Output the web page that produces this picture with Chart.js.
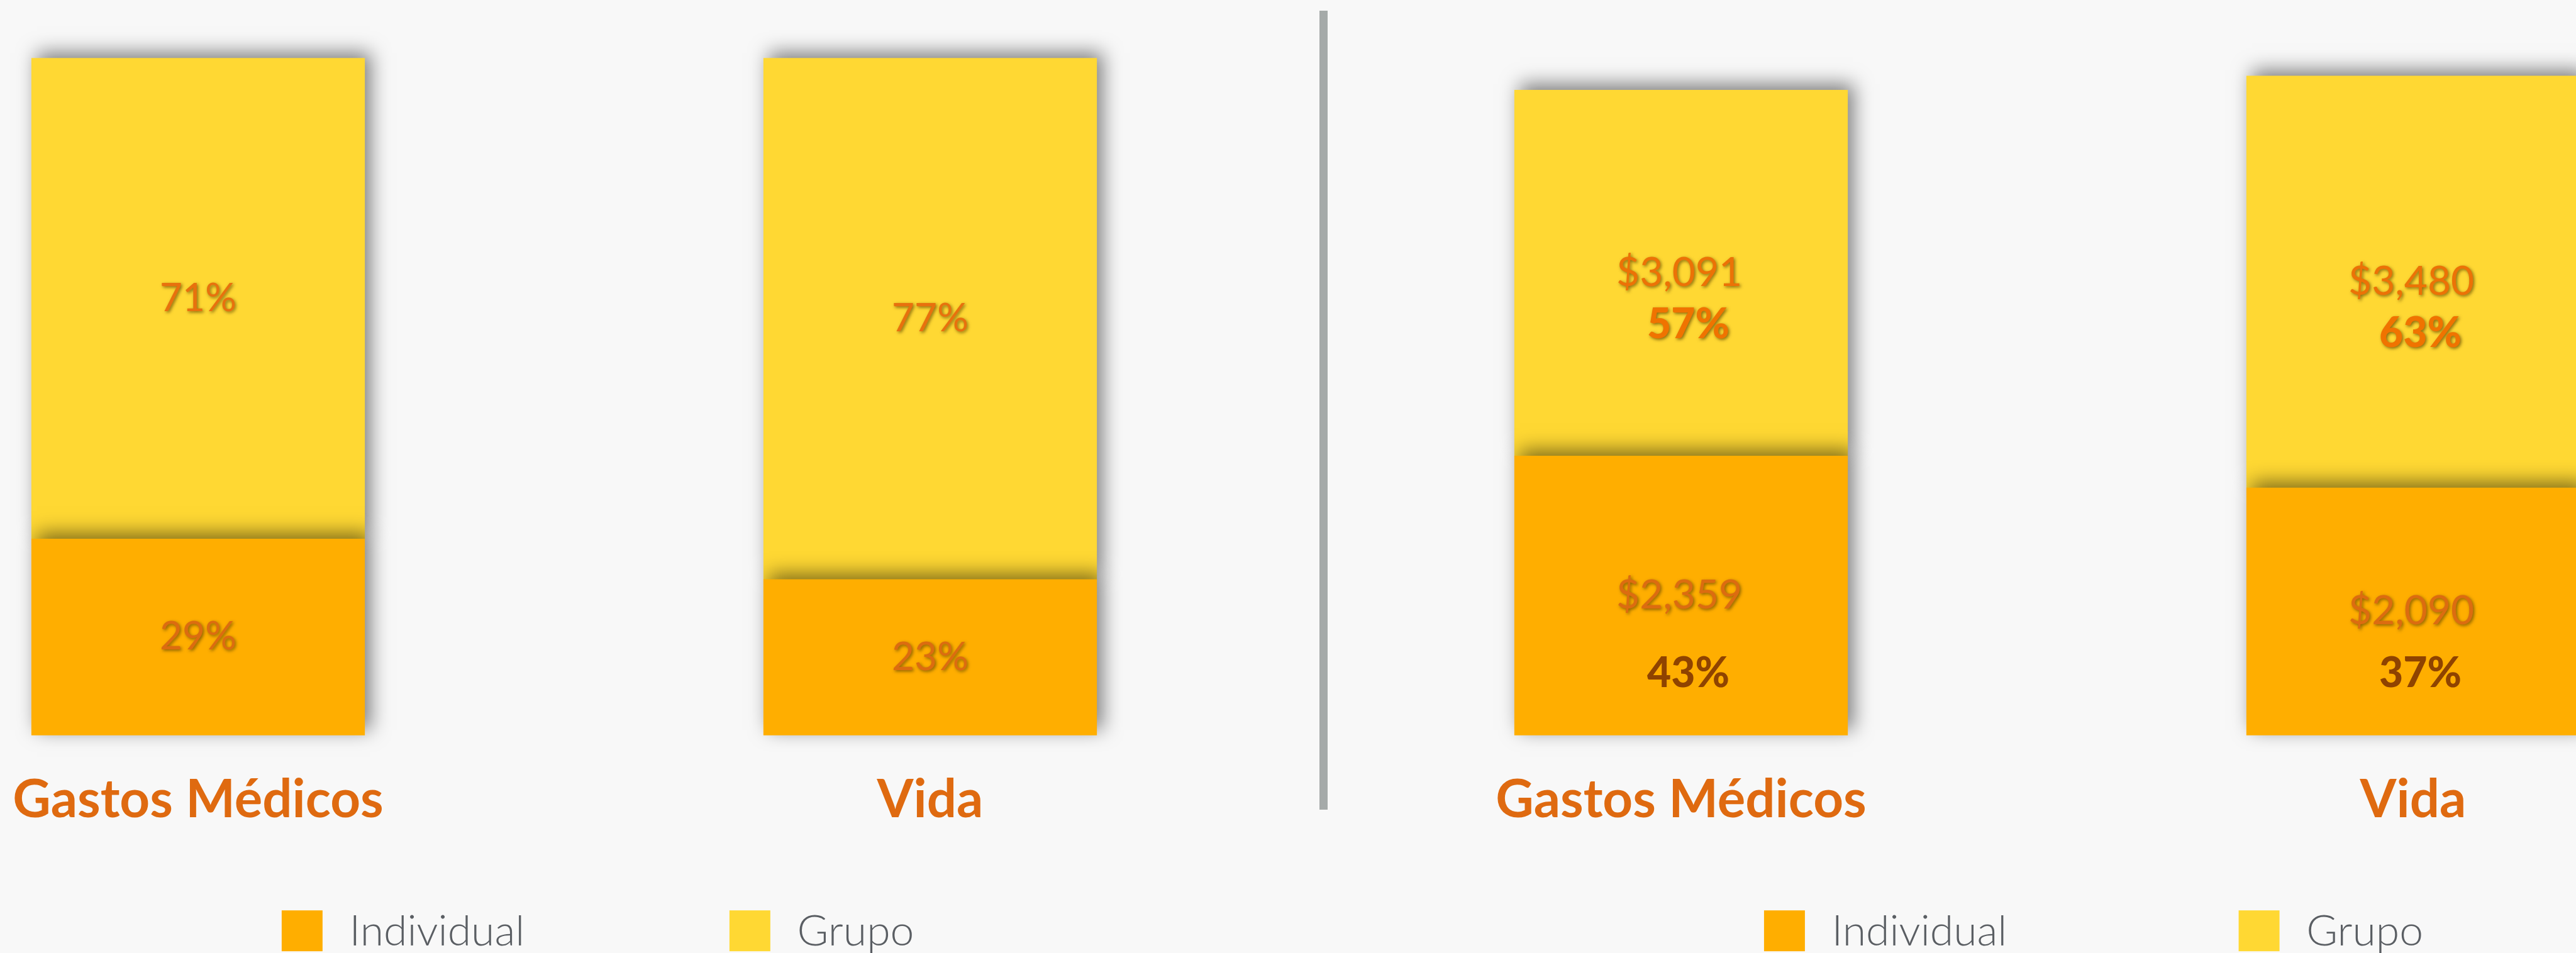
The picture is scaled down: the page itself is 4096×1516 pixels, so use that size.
<!DOCTYPE html>
<html>
<head>
<meta charset="utf-8">
<title>Gastos Médicos / Vida</title>
<script src="https://cdn.jsdelivr.net/npm/chart.js@4.4.1/dist/chart.umd.min.js"></script>
<style>
  html, body { margin: 0; padding: 0; background: #f8f8f8; overflow: hidden; }
  body { width: 4096px; height: 1516px; position: relative; }
  canvas { position: absolute; top: 0; }
  #divider { position: absolute; background: #a5aaa9; }
</style>
</head>
<body>
<canvas id="share-chart"></canvas>
<canvas id="amount-chart"></canvas>
<div id="divider"></div>
<script>
// everything is laid out in reference pixels, then scaled
const S = 0.97;
const px = v => v * S;

const categories = ['Gastos Médicos', 'Vida'];
const seriesNames = ['Individual', 'Grupo'];

// left chart: share (%)
const shareIndividual = [29, 23];
const shareGrupo = [71, 77];

// right chart: amounts and the percentages printed under them
const amountIndividual = [2359, 2090];
const amountGrupo = [3091, 3480];
const pctIndividual = ['43%', '37%'];
const pctGrupo = ['57%', '63%'];

const colorIndividual = '#ffae00';
const colorGrupo = '#ffd833';

const labelShadow = 'rgba(95, 70, 0, 0.75)';

// bars cast a soft shadow up and to the right
const barShadow = {
    id: 'barShadow',
    beforeDatasetsDraw(chart) {
        const ctx = chart.ctx;
        ctx.save();
        ctx.shadowColor = 'rgba(0, 0, 0, 0.5)';
        ctx.shadowBlur = px(30);
        ctx.shadowOffsetX = px(9);
        ctx.shadowOffsetY = px(-9);
    },
    afterDatasetsDraw(chart) {
        chart.ctx.restore();
    }
};

function segmentLabels(linesFor) {
    return {
        id: 'segmentLabels',
        afterDraw(chart) {
            const ctx = chart.ctx;
            chart.data.datasets.forEach((ds, di) => {
                chart.getDatasetMeta(di).data.forEach((bar, i) => {
                    const mid = (bar.y + bar.base) / 2;
                    linesFor(di, i, ds.data[i], bar, mid).forEach(line => {
                        ctx.save();
                        ctx.font = line.font;
                        ctx.fillStyle = line.color;
                        ctx.textAlign = 'center';
                        ctx.textBaseline = 'middle';
                        if (line.shadow) {
                            ctx.shadowColor = labelShadow;
                            ctx.shadowBlur = px(6);
                            ctx.shadowOffsetX = px(2);
                            ctx.shadowOffsetY = px(2);
                        }
                        ctx.fillText(line.text, line.x, line.y);
                        ctx.restore();
                    });
                });
            });
        }
    };
}

function boxLegend(startOffset, gap) {
    return {
        id: 'boxLegend',
        afterDraw(chart) {
            const ctx = chart.ctx;
            const items = chart.legend && chart.legend.legendItems ? chart.legend.legendItems : [];
            let x = chart.chartArea.left + px(startOffset);
            ctx.save();
            ctx.font = `300 ${px(70)}px Lato`;
            ctx.textAlign = 'left';
            ctx.textBaseline = 'alphabetic';
            items.forEach(item => {
                ctx.fillStyle = item.fillStyle;
                ctx.fillRect(x, px(1493), px(67), px(67));
                ctx.fillStyle = '#5a5e63';
                ctx.fillText(item.text, x + px(67 + 44), px(1551));
                x += px(gap);
            });
            ctx.restore();
        }
    };
}

function makeChart(id, cfg) {
    const canvas = document.getElementById(id);
    canvas.width = Math.round(px(cfg.width));
    canvas.height = 1516;
    canvas.style.left = px(cfg.left) + 'px';

    return new Chart(canvas.getContext('2d'), {
        type: 'bar',
        data: {
            labels: categories,
            datasets: [
                { label: seriesNames[0], data: cfg.individual, backgroundColor: colorIndividual },
                { label: seriesNames[1], data: cfg.grupo, backgroundColor: colorGrupo }
            ]
        },
        options: {
            responsive: false,
            animation: false,
            layout: {
                padding: { left: 0, right: 0, top: px(cfg.padTop), bottom: px(144) }
            },
            datasets: {
                bar: { barThickness: px(546), borderWidth: 0, clip: false }
            },
            scales: {
                x: {
                    stacked: true,
                    grid: { display: false, drawTicks: false },
                    border: { display: false },
                    ticks: {
                        padding: px(55),
                        color: '#df6a10',
                        maxRotation: 0,
                        autoSkip: false,
                        font: { family: 'Lato', weight: 'bold', size: px(86) }
                    }
                },
                y: {
                    stacked: true,
                    display: false,
                    min: 0,
                    max: cfg.yMax
                }
            },
            plugins: {
                legend: { display: false },
                tooltip: { enabled: false }
            }
        },
        plugins: [barShadow, segmentLabels(cfg.lines), boxLegend(cfg.legendStart, cfg.legendGap)]
    });
}

// category centres sit 1200 ref px apart, so each chart area is 2400 wide
makeChart('share-chart', {
    left: -275, width: 2400,
    padTop: 95.5,
    yMax: 100,
    individual: shareIndividual,
    grupo: shareGrupo,
    legendStart: 737, legendGap: 734,
    lines: (di, i, v, bar, mid) => [{
        text: v + '%',
        font: `400 ${px(64)}px Lato`,
        color: di === 0 ? '#dc6c10' : '#e8710d',
        shadow: true,
        x: bar.x, y: mid
    }]
});

makeChart('amount-chart', {
    left: 2156, width: 2400,
    padTop: 41,
    yMax: 6000,
    individual: amountIndividual,
    grupo: amountGrupo,
    legendStart: 736, legendGap: 778,
    lines: (di, i, v, bar, mid) => {
        const value = {
            text: '$' + v.toLocaleString('en-US'),
            font: `400 ${px(66)}px Lato`,
            color: di === 0 ? '#dc6c10' : '#ec7206',
            shadow: true,
            x: bar.x - px(3), y: mid
        };
        const pct = di === 1
            ? { text: pctGrupo[i], font: `900 ${px(68)}px Lato`, color: '#f07300', shadow: true,
                x: bar.x + px(12), y: mid + px(85) }
            : { text: pctIndividual[i], font: `900 ${px(68)}px Lato`, color: '#8f4300', shadow: false,
                x: bar.x + px(12), y: bar.base - px(101) };
        return [value, pct];
    }
});

const divider = document.getElementById('divider');
divider.style.left = px(2163) + 'px';
divider.style.top = px(18) + 'px';
divider.style.width = px(13) + 'px';
divider.style.height = px(1310) + 'px';
</script>
</body>
</html>
